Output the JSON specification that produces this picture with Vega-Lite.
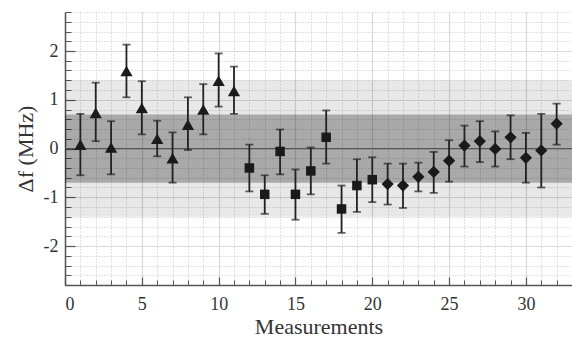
{
  "$schema": "https://vega.github.io/schema/vega-lite/v6.json",
  "width": 507,
  "height": 273,
  "autosize": {"type": "none"},
  "padding": {"left": 65, "top": 12, "right": 0, "bottom": 54},
  "background": "white",
  "config": {
    "view": {"stroke": null},
    "axis": {
      "labelFont": "Liberation Serif",
      "titleFont": "Liberation Serif",
      "labelFontWeight": "normal",
      "titleFontWeight": "normal",
      "labelColor": "#333333",
      "titleColor": "#333333",
      "labelFontSize": 18,
      "titleFontSize": 22
    }
  },
  "datasets": {
    "pts": [
      {"m": 1, "df": 0.08, "lo": -0.55, "hi": 0.71, "s": "A"},
      {"m": 2, "df": 0.73, "lo": 0.15, "hi": 1.35, "s": "A"},
      {"m": 3, "df": 0.02, "lo": -0.53, "hi": 0.56, "s": "A"},
      {"m": 4, "df": 1.59, "lo": 1.05, "hi": 2.13, "s": "A"},
      {"m": 5, "df": 0.83, "lo": 0.29, "hi": 1.38, "s": "A"},
      {"m": 6, "df": 0.2, "lo": -0.16, "hi": 0.57, "s": "A"},
      {"m": 7, "df": -0.2, "lo": -0.7, "hi": 0.33, "s": "A"},
      {"m": 8, "df": 0.49, "lo": -0.03, "hi": 1.05, "s": "A"},
      {"m": 9, "df": 0.8, "lo": 0.29, "hi": 1.32, "s": "A"},
      {"m": 10, "df": 1.39, "lo": 0.86, "hi": 1.95, "s": "A"},
      {"m": 11, "df": 1.18, "lo": 0.71, "hi": 1.68, "s": "A"},
      {"m": 12, "df": -0.4, "lo": -0.88, "hi": 0.08, "s": "B"},
      {"m": 13, "df": -0.94, "lo": -1.34, "hi": -0.55, "s": "B"},
      {"m": 14, "df": -0.06, "lo": -0.53, "hi": 0.39, "s": "B"},
      {"m": 15, "df": -0.94, "lo": -1.46, "hi": -0.43, "s": "B"},
      {"m": 16, "df": -0.46, "lo": -0.94, "hi": 0.02, "s": "B"},
      {"m": 17, "df": 0.23, "lo": -0.31, "hi": 0.78, "s": "B"},
      {"m": 18, "df": -1.24, "lo": -1.73, "hi": -0.76, "s": "B"},
      {"m": 19, "df": -0.76, "lo": -1.3, "hi": -0.22, "s": "B"},
      {"m": 20, "df": -0.64, "lo": -1.1, "hi": -0.18, "s": "B"},
      {"m": 21, "df": -0.73, "lo": -1.15, "hi": -0.31, "s": "C"},
      {"m": 22, "df": -0.76, "lo": -1.22, "hi": -0.31, "s": "C"},
      {"m": 23, "df": -0.58, "lo": -0.88, "hi": -0.29, "s": "C"},
      {"m": 24, "df": -0.48, "lo": -0.91, "hi": -0.07, "s": "C"},
      {"m": 25, "df": -0.25, "lo": -0.68, "hi": 0.17, "s": "C"},
      {"m": 26, "df": 0.06, "lo": -0.37, "hi": 0.47, "s": "C"},
      {"m": 27, "df": 0.15, "lo": -0.28, "hi": 0.56, "s": "C"},
      {"m": 28, "df": -0.01, "lo": -0.37, "hi": 0.35, "s": "C"},
      {"m": 29, "df": 0.23, "lo": -0.22, "hi": 0.68, "s": "C"},
      {"m": 30, "df": -0.19, "lo": -0.7, "hi": 0.32, "s": "C"},
      {"m": 31, "df": -0.04, "lo": -0.8, "hi": 0.71, "s": "C"},
      {"m": 32, "df": 0.51, "lo": 0.08, "hi": 0.92, "s": "C"}
    ],
    "bands": [
      {"band": "outer", "lo": -1.4, "hi": 1.4},
      {"band": "inner", "lo": -0.7, "hi": 0.7}
    ]
  },
  "resolve": {"axis": {"x": "independent", "y": "independent"}},
  "layer": [
    {
      "data": {"name": "bands"},
      "mark": {"type": "rect"},
      "encoding": {
        "y": {"field": "lo", "type": "quantitative", "scale": {"domain": [-2.8, 2.8], "nice": false, "zero": false}, "axis": null},
        "y2": {"field": "hi"},
        "color": {"field": "band", "type": "nominal", "scale": {"domain": ["outer", "inner"], "range": ["rgba(0,0,0,0.09)", "rgba(0,0,0,0.27)"]}, "legend": null}
      }
    },
    {
      "data": {"name": "pts"},
      "mark": {"type": "rule", "color": "#555555", "strokeWidth": 1},
      "encoding": {
        "y": {"datum": 0, "type": "quantitative", "axis": null}
      }
    },
    {
      "data": {"name": "pts"},
      "mark": {"type": "errorbar", "ticks": {"size": 8, "thickness": 1.8, "color": "#222222"}, "rule": {"strokeWidth": 1.8, "color": "#222222"}},
      "encoding": {
        "x": {"field": "m", "type": "quantitative", "scale": {"domain": [0, 33], "nice": false},
          "axis": {"orient": "bottom", "values": [0,1,2,3,4,5,6,7,8,9,10,11,12,13,14,15,16,17,18,19,20,21,22,23,24,25,26,27,28,29,30,31,32,33],
            "labels": false, "domain": false, "title": null, "tickSize": -5, "tickColor": "#555555", "tickWidth": 1,
            "grid": true, "gridDash": [1, 2], "gridColor": "#b5b5b5", "gridWidth": 0.8}},
        "y": {"field": "lo", "type": "quantitative", "scale": {"domain": [-2.8, 2.8], "nice": false, "zero": false},
          "axis": {"orient": "left", "values": [-2.8,-2.6,-2.4,-2.2,-2,-1.8,-1.6,-1.4,-1.2,-1,-0.8,-0.6,-0.4,-0.2,0,0.2,0.4,0.6,0.8,1,1.2,1.4,1.6,1.8,2,2.2,2.4,2.6,2.8],
            "labels": false, "domain": false, "title": null, "tickSize": -6, "tickColor": "#555555", "tickWidth": 1,
            "grid": true, "gridDash": [1, 2], "gridColor": "#b5b5b5", "gridWidth": 0.8}},
        "y2": {"field": "hi"}
      }
    },
    {
      "data": {"name": "pts"},
      "transform": [{"filter": "datum.s === 'A'"}],
      "mark": {"type": "point", "filled": true, "opacity": 1, "color": "#1a1a1a", "shape": "triangle-up", "size": 150},
      "encoding": {
        "x": {"field": "m", "type": "quantitative", "scale": {"domain": [0, 33], "nice": false},
          "axis": {"orient": "bottom", "values": [0, 5, 10, 15, 20, 25, 30], "title": "Measurements",
            "domain": true, "domainColor": "#555555", "domainWidth": 1.5, "tickSize": -8, "tickColor": "#555555", "tickWidth": 1.2,
            "labelPadding": 18, "titlePadding": 3, "grid": true, "gridColor": "#d9d9d9", "gridWidth": 1.2}},
        "y": {"field": "df", "type": "quantitative", "scale": {"domain": [-2.8, 2.8], "nice": false, "zero": false},
          "axis": {"orient": "left", "values": [-2, -1, 0, 1, 2], "title": "Δf (MHz)",
            "labelExpr": "replace(datum.label, '−', '-')",
            "domain": true, "domainColor": "#555555", "domainWidth": 1.5, "tickSize": -10, "tickColor": "#555555", "tickWidth": 1.2,
            "labelPadding": 17, "titlePadding": 6, "grid": true, "gridColor": "#d9d9d9", "gridWidth": 1.2}}
      }
    },
    {
      "data": {"name": "pts"},
      "transform": [{"filter": "datum.s === 'B'"}],
      "mark": {"type": "point", "filled": true, "opacity": 1, "color": "#1a1a1a", "shape": "square", "size": 90},
      "encoding": {
        "x": {"field": "m", "type": "quantitative", "axis": null},
        "y": {"field": "df", "type": "quantitative", "axis": null}
      }
    },
    {
      "data": {"name": "pts"},
      "transform": [{"filter": "datum.s === 'C'"}],
      "mark": {"type": "point", "filled": true, "opacity": 1, "color": "#1a1a1a", "shape": "diamond", "size": 150},
      "encoding": {
        "x": {"field": "m", "type": "quantitative", "axis": null},
        "y": {"field": "df", "type": "quantitative", "axis": null}
      }
    }
  ]
}
